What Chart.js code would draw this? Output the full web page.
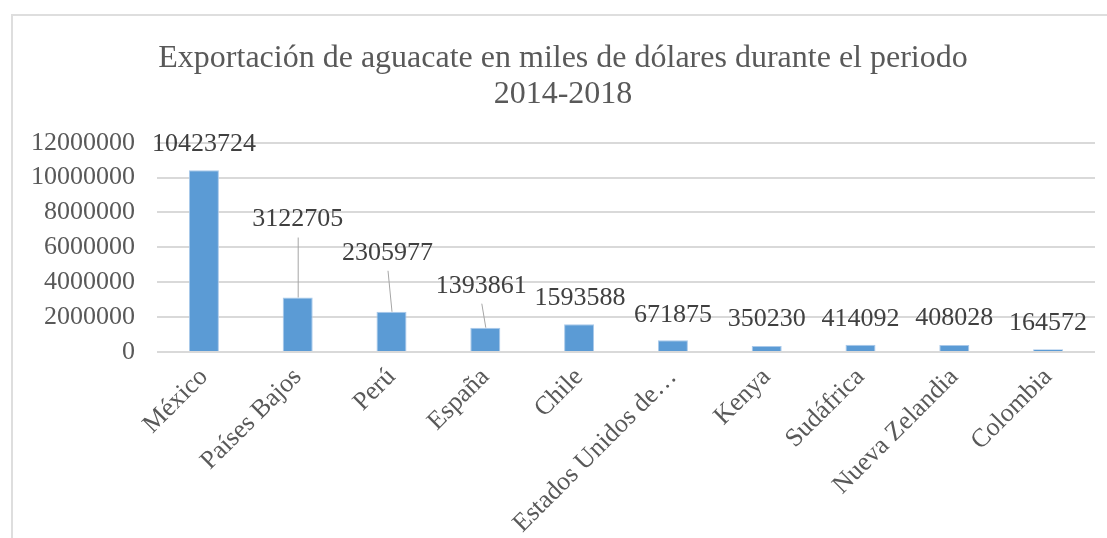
<!DOCTYPE html>
<html>
<head>
<meta charset="utf-8">
<title>Exportación de aguacate</title>
<script src="https://cdn.jsdelivr.net/npm/chart.js@4.4.1/dist/chart.umd.min.js"></script>
<style>
  html, body { margin: 0; padding: 0; background: #fff; width: 1107px; height: 538px; overflow: hidden; }
  #frame { position: absolute; left: 11px; top: 14px; width: 1113px; height: 560px; border: 2px solid #dedede; box-sizing: border-box; }
  #chartExport { position: absolute; left: 11px; top: 14px; width: 1113px; height: 560px; }
</style>
</head>
<body>
<div id="frame"></div>
<canvas id="chartExport" width="1113" height="560"></canvas>
<script>
// countries and exports (miles de dólares, 2014-2018)
var countries = ["México", "Países Bajos", "Perú", "España", "Chile",
  "Estados Unidos de…", "Kenya", "Sudáfrica", "Nueva Zelandia", "Colombia"];
var exportValues = [10423724, 3122705, 2305977, 1393861, 1593588,
  671875, 350230, 414092, 408028, 164572];
var yTicks = [0, 2000000, 4000000, 6000000, 8000000, 10000000, 12000000];
var chartTitle = ["Exportación de aguacate en miles de dólares durante el periodo", "2014-2018"];

var serif = "'Liberation Serif', 'Times New Roman', serif";

// value labels above the bars, a few pulled up with a leader line (like excel does)
var valueLabels = {
  id: "valueLabels",
  afterDatasetsDraw: function (chart, args, opts) {
    var ctx = chart.ctx;
    var meta = chart.getDatasetMeta(0);
    ctx.save();
    ctx.font = opts.font;
    ctx.textAlign = "center";
    ctx.textBaseline = "middle";
    meta.data.forEach(function (bar, i) {
      var lift = opts.lift[i];
      var lx = bar.x + (opts.shift[i] || 0);
      var ly = bar.y - lift;
      if (lift > opts.leaderMin) {
        ctx.strokeStyle = opts.leaderColor;
        ctx.lineWidth = 1;
        ctx.beginPath();
        ctx.moveTo(lx + 0.5, ly + 18);
        ctx.lineTo(bar.x + 0.5, bar.y);
        ctx.stroke();
      }
      ctx.fillStyle = opts.color;
      ctx.fillText(String(exportValues[i]), lx, ly);
    });
    ctx.restore();
  }
};

var ctx1 = document.getElementById("chartExport").getContext("2d");

new Chart(ctx1, {
  type: "bar",
  data: {
    labels: countries,
    datasets: [{
      label: "Exportación",
      data: exportValues,
      backgroundColor: "#5b9bd5",
      borderColor: "#a9c9ea",
      borderWidth: 1,
      barPercentage: 0.32,
      categoryPercentage: 1
    }]
  },
  plugins: [valueLabels],
  options: {
    responsive: false,
    animation: false,
    devicePixelRatio: 1,
    layout: {
      padding: { left: 20, right: 29, top: 27, bottom: 32 }
    },
    plugins: {
      legend: { display: false },
      tooltip: { enabled: false },
      title: {
        display: true,
        text: chartTitle,
        color: "#595959",
        font: { family: serif, size: 32, weight: "normal", lineHeight: 1.12 },
        padding: { top: 0, bottom: 30 }
      },
      valueLabels: {
        font: "26px " + serif,
        color: "#404040",
        leaderColor: "#a6a6a6",
        leaderMin: 30,
        lift: [26, 78, 59, 42, 26, 25, 27, 26, 27, 26],
        shift: [0, 0, -4, -4, 1, 0, 0, 0, 0, 0]
      }
    },
    scales: {
      y: {
        min: 0,
        max: 12000000,
        afterBuildTicks: function (scale) {
          scale.ticks = yTicks.map(function (v) { return { value: v }; });
        },
        afterFit: function (scale) { scale.width = 126; },
        border: { display: false },
        grid: {
          color: "#d9d9d9",
          lineWidth: 2,
          drawTicks: false
        },
        ticks: {
          padding: 22,
          color: "#595959",
          font: { family: serif, size: 26 },
          callback: function (v) { return String(v); }
        }
      },
      x: {
        afterFit: function (scale) { scale.height = 190; },
        border: { display: false },
        grid: { display: false, drawTicks: false },
        ticks: {
          minRotation: 45,
          maxRotation: 45,
          autoSkip: false,
          padding: 10,
          color: "#595959",
          font: { family: serif, size: 26 }
        }
      }
    }
  }
});
</script>
</body>
</html>
